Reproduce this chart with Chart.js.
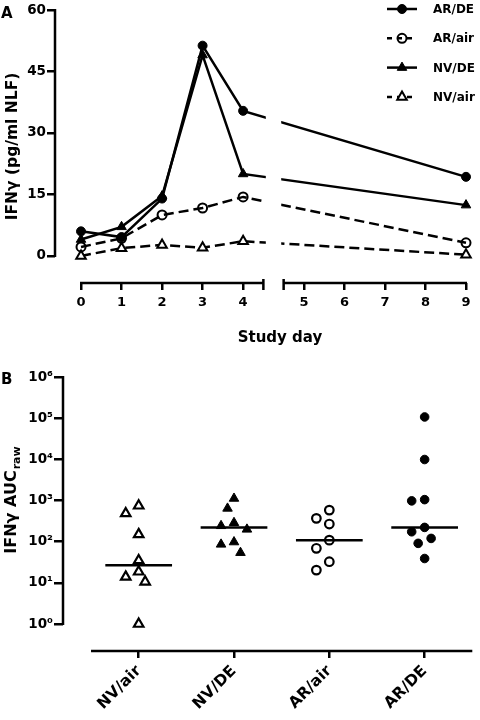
<!DOCTYPE html>
<html>
<head>
<meta charset="utf-8">
<title>IFNγ time course and AUC</title>
<script src="https://cdn.jsdelivr.net/npm/chart.js@4.4.0/dist/chart.umd.min.js"></script>
<style>
  html, body { margin: 0; padding: 0; background: #fff; }
  canvas { display: block; }
</style>
</head>
<body>
<canvas id="panel-a" width="480" height="360"></canvas>
<canvas id="panel-b" width="480" height="360"></canvas>
<script>
// Panel A: IFNγ (pg/ml NLF) by study day
const studyDays = [0, 1, 2, 3, 4, 9];
const dayTicks = [0, 1, 2, 3, 4, 5, 6, 7, 8, 9];
const ifnTicks = [0, 15, 30, 45, 60];
const arDE = [6, 4.6, 14, 51.3, 35.4, 19.3];
const arAir = [2.2, 4.3, 10, 11.7, 14.4, 3.2];
const nvDE = [4, 7.1, 14.6, 49, 20, 12.4];
const nvAir = [0, 1.9, 2.7, 2, 3.6, 0.3];

// Panel B: IFNγ AUC per subject
const groups = ["NV/air", "NV/DE", "AR/air", "AR/DE"];
const aucNVair = [745, 485, 150, 35, 18.6, 14, 10.6, 1];
const aucNVde = [1120, 643, 288, 243, 199, 98, 86, 54];
const aucARair = [585, 369, 268, 109, 69, 32.6, 20.4];
const aucARde = [107000, 9900, 1050, 980, 222, 174, 120, 91, 39];
const aucTicks = [1, 10, 100, 1000, 10000, 100000, 1000000];
const superscripts = ["⁰", "¹", "²", "³", "⁴", "⁵", "⁶"];

const FONT = "'DejaVu Sans', 'Liberation Sans', sans-serif";
Chart.defaults.font.family = FONT;
Chart.defaults.font.weight = "bold";
Chart.defaults.color = "#000";

const AXIS_W = 2.5;

// x axis of panel A is broken between day 4 and day 5
const BREAK_AT = 4.5;
const BREAK_GAP = 0.5;
const shiftDay = (d) => (d > BREAK_AT ? d + BREAK_GAP : d);
const unshiftDay = (v) => (v > BREAK_AT ? v - BREAK_GAP : v);

const toPoints = (values) => values.map((v, i) => ({ x: shiftDay(studyDays[i]), y: v }));

function lineSeries(label, values, opts) {
  return {
    label,
    data: toPoints(values),
    borderColor: "#000",
    borderWidth: 2.5,
    borderDash: opts.dashed ? [10, 5] : [],
    pointStyle: opts.style,
    pointRadius: opts.style === "triangle" ? 5.5 : 4.5,
    pointBackgroundColor: opts.fill,
    pointBorderColor: "#000",
    pointBorderWidth: opts.fill === "#000" ? 1 : 2,
    tension: 0,
    clip: false,
  };
}

const legendA = {
  id: "legendA",
  afterDraw(chart) {
    const ctx = chart.ctx;
    ctx.save();
    chart.data.datasets.forEach((ds, i) => {
      const y = 9 + i * 29.3;
      ctx.strokeStyle = "#000";
      ctx.lineWidth = 2.5;
      ctx.setLineDash(ds.borderDash.length ? [5, 5] : []);
      ctx.beginPath();
      ctx.moveTo(387, y);
      ctx.lineTo(417, y);
      ctx.stroke();
      ctx.setLineDash([]);
      ctx.fillStyle = ds.pointBackgroundColor;
      ctx.lineWidth = ds.pointBorderWidth;
      Chart.helpers.drawPoint(ctx, {
        pointStyle: ds.pointStyle,
        radius: ds.pointRadius,
        rotation: 0,
        borderWidth: ds.pointBorderWidth,
      }, 402, y);
      ctx.fillStyle = "#000";
      ctx.font = `bold 12px ${FONT}`;
      ctx.textBaseline = "middle";
      ctx.fillText(ds.label, 433, y + 1);
    });
    ctx.restore();
  },
};

const brokenAxis = {
  id: "brokenAxis",
  afterDatasetsDraw(chart) {
    const { ctx, chartArea, scales: { x } } = chart;
    const g0 = x.getPixelForValue(BREAK_AT + 0.06);
    const g1 = x.getPixelForValue(BREAK_AT + BREAK_GAP - 0.06);
    ctx.save();
    ctx.fillStyle = "#fff";
    ctx.fillRect(g0, chartArea.top, g1 - g0, chartArea.bottom - chartArea.top - 3);
    ctx.restore();
  },
  afterDraw(chart) {
    const { ctx, chartArea, scales: { x, y } } = chart;
    const yb = chartArea.bottom;
    const b0 = x.getPixelForValue(BREAK_AT);
    const b1 = x.getPixelForValue(BREAK_AT + BREAK_GAP);
    ctx.save();
    ctx.strokeStyle = "#000";
    ctx.lineWidth = AXIS_W;
    ctx.beginPath();
    ctx.moveTo(chartArea.left, y.getPixelForValue(0) + 1);
    ctx.lineTo(chartArea.left, y.getPixelForValue(60) - 1);
    ctx.moveTo(x.getPixelForValue(0) - 1, yb);
    ctx.lineTo(b0, yb);
    ctx.moveTo(b1, yb);
    ctx.lineTo(x.getPixelForValue(shiftDay(9)) + 1, yb);
    ctx.moveTo(b0, yb - 4);
    ctx.lineTo(b0, yb + 7);
    ctx.moveTo(b1, yb - 4);
    ctx.lineTo(b1, yb + 7);
    ctx.stroke();
    ctx.fillStyle = "#000";
    ctx.font = `bold 15px ${FONT}`;
    ctx.textBaseline = "alphabetic";
    ctx.fillText("A", 1, 18);
    ctx.font = `bold 15px ${FONT}`;
    ctx.textAlign = "center";
    ctx.fillText("Study day", 280, 342);
    ctx.restore();
  },
};

new Chart(document.getElementById("panel-a"), {
  type: "line",
  data: {
    datasets: [
      lineSeries("AR/DE", arDE, { style: "circle", fill: "#000", dashed: false }),
      lineSeries("AR/air", arAir, { style: "circle", fill: "rgba(0,0,0,0)", dashed: true }),
      lineSeries("NV/DE", nvDE, { style: "triangle", fill: "#000", dashed: false }),
      lineSeries("NV/air", nvAir, { style: "triangle", fill: "#fff", dashed: true }),
    ],
  },
  options: {
    responsive: false,
    animation: false,
    events: [],
    layout: { padding: { top: 10, right: 14, left: 0, bottom: 0 } },
    plugins: { legend: { display: false }, tooltip: { enabled: false } },
    scales: {
      x: {
        type: "linear",
        min: -0.642,
        max: shiftDay(9),
        afterBuildTicks: (scale) => {
          scale.ticks = dayTicks.map((d) => ({ value: shiftDay(d) }));
        },
        afterFit: (scale) => {
          scale.height = 77;
        },
        ticks: {
          autoSkip: false,
          maxRotation: 0,
          padding: 5,
          font: { size: 13, weight: "bold" },
          callback: (value) => String(Math.round(unshiftDay(value))),
        },
        grid: { drawOnChartArea: false, color: "#000", lineWidth: AXIS_W, tickLength: 7 },
        border: { display: false },
      },
      y: {
        min: -6.6,
        max: 60,
        afterBuildTicks: (scale) => {
          scale.ticks = ifnTicks.map((v) => ({ value: v }));
        },
        afterFit: (scale) => {
          scale.width = 55;
        },
        ticks: { padding: 1, font: { size: 13.5, weight: "bold" } },
        grid: { drawOnChartArea: false, color: "#000", lineWidth: AXIS_W, tickLength: 8 },
        border: { display: false },
        title: {
          display: true,
          text: "IFNγ (pg/ml NLF)",
          font: { size: 15.5, weight: "bold" },
          padding: { top: 4, bottom: 0 },
        },
      },
    },
  },
  plugins: [legendA, brokenAxis],
});

// Panel B helpers
const CAT_PX = 95.67;
const DECADE_PX = 41.17;
const STEP_PX = 6.5;
const MIN_DIST = 11;

function median(values) {
  const s = [...values].sort((a, b) => a - b);
  const m = Math.floor(s.length / 2);
  return s.length % 2 ? s[m] : (s[m - 1] + s[m]) / 2;
}

// spread points sideways so that they do not overlap (column scatter)
function swarm(values, index) {
  const placed = [];
  const order = values.map((v) => ({ v, ly: Math.log10(v) })).sort((a, b) => b.v - a.v);
  order.forEach((p) => {
    for (const k of [0, -1, 1, -2, 2, -3, 3]) {
      const dx = k * STEP_PX;
      const free = placed.every((q) => Math.hypot(dx - q.dx, (p.ly - q.ly) * DECADE_PX) >= MIN_DIST);
      if (free) {
        p.dx = dx;
        break;
      }
    }
    placed.push(p);
  });
  return placed.map((p) => ({ x: index + p.dx / CAT_PX, y: p.v }));
}

function groupSeries(label, values, index, style, fill) {
  return {
    label,
    data: swarm(values, index),
    pointStyle: style,
    pointRadius: style === "triangle" ? 5.5 : 4.3,
    pointBackgroundColor: fill,
    pointBorderColor: "#000",
    pointBorderWidth: fill === "#000" ? 1 : 2.2,
  };
}

function medianSeries(values, index) {
  const m = median(values);
  return {
    label: `${groups[index]} median`,
    data: [{ x: index - 0.35, y: m }, { x: index + 0.35, y: m }],
    showLine: true,
    borderColor: "#000",
    borderWidth: 2.5,
    pointRadius: 0,
  };
}

const panelBDecor = {
  id: "panelBDecor",
  afterDraw(chart) {
    const { ctx, chartArea, scales: { x, y } } = chart;
    ctx.save();
    ctx.strokeStyle = "#000";
    ctx.lineWidth = AXIS_W;
    ctx.beginPath();
    ctx.moveTo(chartArea.left, y.getPixelForValue(aucTicks[0]) + 1);
    ctx.lineTo(chartArea.left, y.getPixelForValue(aucTicks[aucTicks.length - 1]) - 1);
    ctx.moveTo(x.getPixelForValue(-0.5), chartArea.bottom);
    ctx.lineTo(x.getPixelForValue(groups.length - 0.5), chartArea.bottom);
    ctx.stroke();
    ctx.fillStyle = "#000";
    ctx.textBaseline = "alphabetic";
    ctx.font = `bold 15px ${FONT}`;
    ctx.fillText("B", 1, 24);
    const midY = (y.getPixelForValue(aucTicks[0]) + y.getPixelForValue(aucTicks[aucTicks.length - 1])) / 2;
    ctx.translate(16, midY);
    ctx.rotate(-Math.PI / 2);
    const main = "IFNγ AUC";
    const sub = "raw";
    ctx.font = `bold 16px ${FONT}`;
    const wMain = ctx.measureText(main).width;
    ctx.font = `bold 11px ${FONT}`;
    const wSub = ctx.measureText(sub).width;
    const x0 = -(wMain + wSub) / 2;
    ctx.font = `bold 16px ${FONT}`;
    ctx.fillText(main, x0, 0);
    ctx.font = `bold 11px ${FONT}`;
    ctx.fillText(sub, x0 + wMain + 1, 4);
    ctx.restore();
  },
};

new Chart(document.getElementById("panel-b"), {
  type: "scatter",
  data: {
    datasets: [
      medianSeries(aucNVair, 0),
      medianSeries(aucNVde, 1),
      medianSeries(aucARair, 2),
      medianSeries(aucARde, 3),
      groupSeries("NV/air", aucNVair, 0, "triangle", "#fff"),
      groupSeries("NV/DE", aucNVde, 1, "triangle", "#000"),
      groupSeries("AR/air", aucARair, 2, "circle", "#fff"),
      groupSeries("AR/DE", aucARde, 3, "circle", "#000"),
    ],
  },
  options: {
    responsive: false,
    animation: false,
    events: [],
    layout: { padding: { top: 17, right: 6, left: 0, bottom: 0 } },
    plugins: { legend: { display: false }, tooltip: { enabled: false } },
    scales: {
      x: {
        type: "linear",
        min: -0.794,
        max: 3.5,
        afterBuildTicks: (scale) => {
          scale.ticks = groups.map((_, i) => ({ value: i }));
        },
        afterFit: (scale) => {
          scale.height = 69;
        },
        ticks: {
          autoSkip: false,
          minRotation: 45,
          maxRotation: 45,
          padding: 4,
          font: { size: 15.5, weight: "bold" },
          callback: (value) => groups[value],
        },
        grid: { drawOnChartArea: false, color: "#000", lineWidth: AXIS_W, tickLength: 7 },
        border: { display: false },
      },
      y: {
        type: "logarithmic",
        min: 0.221,
        max: 1000000,
        afterBuildTicks: (scale) => {
          scale.ticks = aucTicks.map((v) => ({ value: v }));
        },
        afterFit: (scale) => {
          scale.width = 63;
        },
        ticks: {
          padding: 1,
          font: { size: 13.5, weight: "bold" },
          callback: (value) => "10" + superscripts[Math.round(Math.log10(value))],
        },
        grid: { drawOnChartArea: false, color: "#000", lineWidth: AXIS_W, tickLength: 9 },
        border: { display: false },
      },
    },
  },
  plugins: [panelBDecor],
});
</script>
</body>
</html>
